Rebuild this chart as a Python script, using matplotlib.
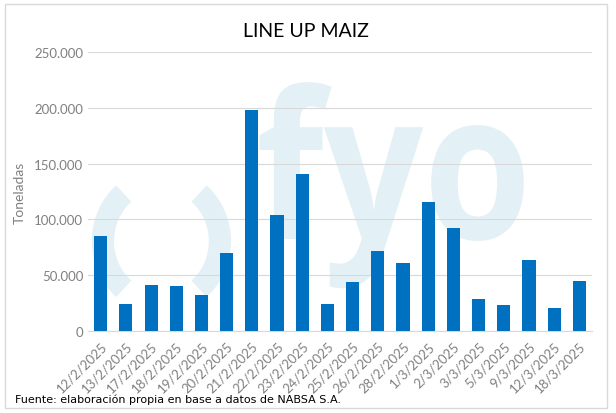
import matplotlib.pyplot as plt
import numpy as np
from matplotlib.patches import Arc, Rectangle, PathPatch
from matplotlib.textpath import TextPath
from matplotlib.font_manager import FontProperties
from matplotlib.transforms import Affine2D, IdentityTransform
from matplotlib.ticker import FuncFormatter

# datos del line up
fechas = ['12/2/2025', '13/2/2025', '17/2/2025', '18/2/2025', '19/2/2025',
          '20/2/2025', '21/2/2025', '22/2/2025', '23/2/2025', '24/2/2025',
          '25/2/2025', '26/2/2025', '28/2/2025', '1/3/2025', '2/3/2025',
          '3/3/2025', '5/3/2025', '9/3/2025', '12/3/2025', '18/3/2025']
toneladas = [85000, 24000, 41000, 40000, 32000,
             70000, 198000, 104000, 141000, 24000,
             44000, 72000, 61000, 116000, 92000,
             29000, 23000, 64000, 20500, 45000]
yticks = [0, 50000, 100000, 150000, 200000, 250000]

plt.rcParams['font.family'] = ['Lato', 'DejaVu Sans']

fig = plt.figure(figsize=(6.16, 4.14), dpi=100)
ax = fig.add_axes([0.143, 0.198, 0.818, 0.674], zorder=2)

# borde exterior
fig.patches.append(Rectangle((0.008, 0.012), 0.977, 0.976, transform=fig.transFigure,
                             fill=False, edgecolor='#d9d9d9', linewidth=1))

# marca de agua (logo), en pixeles
wm = '#e3f1f6'
tp = TextPath((0, 0), 'fyo', size=1, prop=FontProperties(family='Open Sans', weight='bold'))
tr = Affine2D().scale(175, 205).translate(256, 174) + IdentityTransform()
fig.patches.append(PathPatch(tp, transform=tr, facecolor=wm, edgecolor='none', zorder=0))
for ang1, ang2 in [(118, 242), (-62, 62)]:
    fig.patches.append(Arc((0.262, 0.415), 0.19, 0.30, theta1=ang1, theta2=ang2,
                           transform=fig.transFigure, color=wm, linewidth=16, zorder=0))

x = np.arange(len(fechas))
ax.bar(x, toneladas, width=0.52, color='#0070C0', zorder=3)

ax.set_xlim(-0.5, len(fechas) - 0.5)
ax.set_ylim(0, 250000)
ax.set_yticks(yticks)
ax.yaxis.set_major_formatter(FuncFormatter(lambda v, p: f'{int(v):,}'.replace(',', '.')))
ax.set_xticks(x)
ax.set_xticklabels(fechas, rotation=45, ha='right', rotation_mode='anchor')
ax.tick_params(axis='both', colors='#808080', labelsize=9.5, length=0)
ax.tick_params(axis='x', pad=6)
ax.grid(axis='y', color='#d9d9d9', linewidth=0.8, zorder=0)
ax.set_axisbelow(True)
for s in ['top', 'right', 'left']:
    ax.spines[s].set_visible(False)
ax.spines['bottom'].set_color('#d9d9d9')
ax.patch.set_alpha(0)

ax.set_ylabel('Toneladas', color='#808080', fontsize=10, labelpad=6)
fig.text(0.497, 0.925, 'LINE UP MAIZ', ha='center', va='center', fontsize=14,
         color='black')
fig.text(0.025, 0.035, 'Fuente: elaboración propia en base a datos de NABSA S.A.',
         fontsize=8, color='black', family='DejaVu Sans', va='center')

plt.savefig('out.png', dpi=100)
